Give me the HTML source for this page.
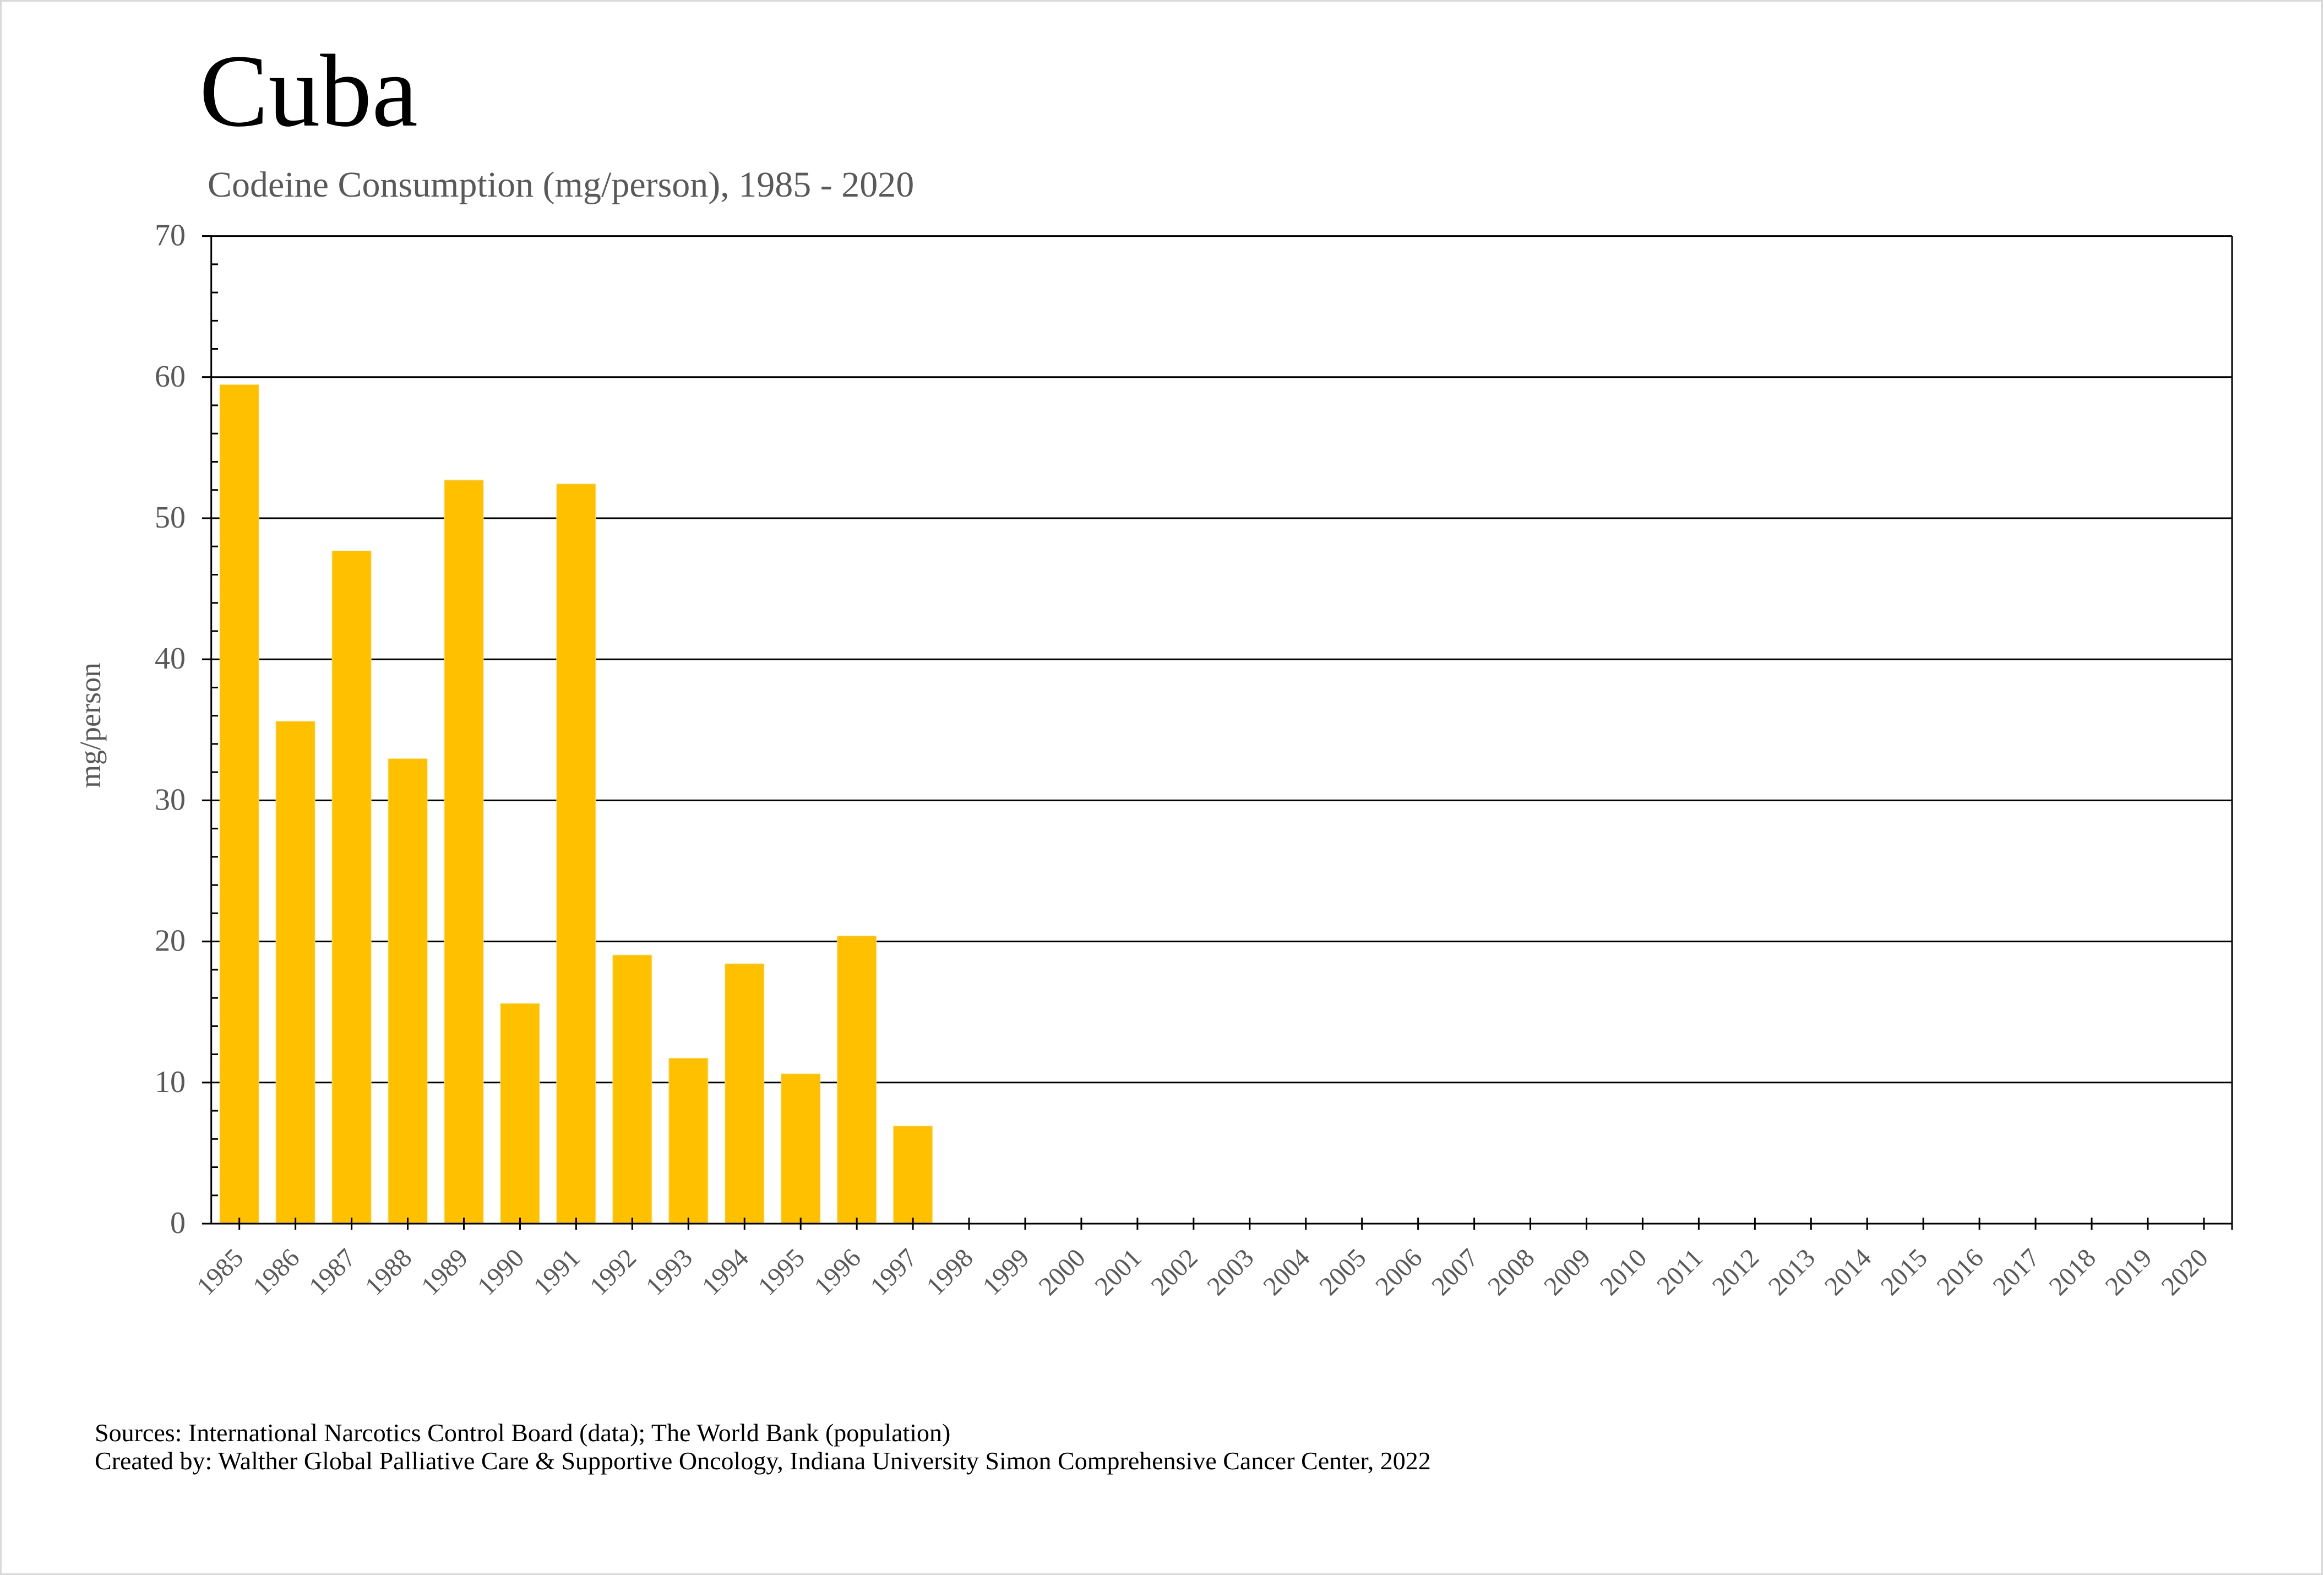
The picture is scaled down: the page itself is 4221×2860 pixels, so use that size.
<!DOCTYPE html>
<html>
<head>
<meta charset="utf-8">
<style>
html,body{margin:0;padding:0;background:#fff;}
svg{display:block;}
text{font-family:"Liberation Serif","Times New Roman",serif;}
</style>
</head>
<body>
<svg width="4221" height="2860" viewBox="0 0 4221 2860" xmlns="http://www.w3.org/2000/svg">
<rect x="0" y="0" width="4221" height="2860" fill="#fff"/>
<rect x="1.5" y="1.5" width="4216" height="2857" fill="none" stroke="#d9d9d9" stroke-width="3"/>

<!-- Title -->
<text x="362" y="228" font-size="188" fill="#000">Cuba</text>
<text x="377" y="357" font-size="66" fill="#595959">Codeine Consumption (mg/person), 1985 - 2020</text>

<!-- gridlines -->
<g stroke="#000" stroke-width="3">
<line x1="367" y1="428.6" x2="4054" y2="428.6"/>
<line x1="367" y1="684.8" x2="4054" y2="684.8"/>
<line x1="367" y1="941" x2="4054" y2="941"/>
<line x1="367" y1="1197.2" x2="4054" y2="1197.2"/>
<line x1="367" y1="1453.4" x2="4054" y2="1453.4"/>
<line x1="367" y1="1709.6" x2="4054" y2="1709.6"/>
<line x1="367" y1="1965.8" x2="4054" y2="1965.8"/>
</g>

<!-- bars -->
<g fill="#FFC000" stroke="#FFE28A" stroke-width="1">
<rect x="399.2" y="698.4" width="71" height="1523.6"/>
<rect x="501.15" y="1309.7" width="71" height="912.3"/>
<rect x="603.1" y="1000.4" width="71" height="1221.6"/>
<rect x="705.05" y="1377.6" width="71" height="844.4"/>
<rect x="807.0" y="871.8" width="71" height="1350.2"/>
<rect x="908.95" y="1822.1" width="71" height="399.9"/>
<rect x="1010.9" y="878.7" width="71" height="1343.3"/>
<rect x="1112.85" y="1734.2" width="71" height="487.8"/>
<rect x="1214.8" y="1921.5" width="71" height="300.5"/>
<rect x="1316.75" y="1750.1" width="71" height="471.9"/>
<rect x="1418.7" y="1949.9" width="71" height="272.1"/>
<rect x="1520.65" y="1699.6" width="71" height="522.4"/>
<rect x="1622.6" y="2044.7" width="71" height="177.3"/>
</g>

<!-- axes -->
<g stroke="#000" stroke-width="3" fill="none">
<line x1="383.7" y1="428.6" x2="383.7" y2="2222"/>
<line x1="4054" y1="428.6" x2="4054" y2="2233"/>
<line x1="367" y1="2222" x2="4054" y2="2222"/>
<!-- major left ticks -->
<path d="M367 2222H384M367 1965.8H384M367 1709.6H384M367 1453.4H384M367 1197.2H384M367 941H384M367 684.8H384M367 428.6H384"/>
<!-- minor left ticks -->
<path d="M384 2170.76H396M384 2119.52H396M384 2068.28H396M384 2017.04H396M384 1914.56H396M384 1863.32H396M384 1812.08H396M384 1760.84H396M384 1658.36H396M384 1607.12H396M384 1555.88H396M384 1504.64H396M384 1402.16H396M384 1350.92H396M384 1299.68H396M384 1248.44H396M384 1145.96H396M384 1094.72H396M384 1043.48H396M384 992.24H396M384 889.76H396M384 838.52H396M384 787.28H396M384 736.04H396M384 633.56H396M384 582.32H396M384 531.08H396M384 479.84H396"/>
<!-- x ticks -->
<path d="M434.7 2211V2233M536.65 2211V2233M638.6 2211V2233M740.55 2211V2233M842.5 2211V2233M944.45 2211V2233M1046.4 2211V2233M1148.35 2211V2233M1250.3 2211V2233M1352.25 2211V2233M1454.2 2211V2233M1556.15 2211V2233M1658.1 2211V2233M1760.05 2211V2233M1862 2211V2233M1963.95 2211V2233M2065.9 2211V2233M2167.85 2211V2233M2269.8 2211V2233M2371.75 2211V2233M2473.7 2211V2233M2575.65 2211V2233M2677.6 2211V2233M2779.55 2211V2233M2881.5 2211V2233M2983.45 2211V2233M3085.4 2211V2233M3187.35 2211V2233M3289.3 2211V2233M3391.25 2211V2233M3493.2 2211V2233M3595.15 2211V2233M3697.1 2211V2233M3799.05 2211V2233M3901 2211V2233M4002.95 2211V2233"/>
</g>

<!-- y tick labels -->
<g font-size="56" fill="#595959" text-anchor="end">
<text x="337" y="2239">0</text>
<text x="337" y="1982.8">10</text>
<text x="337" y="1726.6">20</text>
<text x="337" y="1470.4">30</text>
<text x="337" y="1214.2">40</text>
<text x="337" y="958">50</text>
<text x="337" y="701.8">60</text>
<text x="337" y="445.6">70</text>
</g>

<!-- y axis title -->
<text transform="translate(182,1317) rotate(-90)" font-size="54" fill="#595959" text-anchor="middle">mg/person</text>

<!-- x labels -->
<g font-size="48" fill="#595959" text-anchor="end">
<text transform="translate(444.7,2287) rotate(-45)">1985</text>
<text transform="translate(546.65,2287) rotate(-45)">1986</text>
<text transform="translate(648.6,2287) rotate(-45)">1987</text>
<text transform="translate(750.55,2287) rotate(-45)">1988</text>
<text transform="translate(852.5,2287) rotate(-45)">1989</text>
<text transform="translate(954.45,2287) rotate(-45)">1990</text>
<text transform="translate(1056.4,2287) rotate(-45)">1991</text>
<text transform="translate(1158.35,2287) rotate(-45)">1992</text>
<text transform="translate(1260.3,2287) rotate(-45)">1993</text>
<text transform="translate(1362.25,2287) rotate(-45)">1994</text>
<text transform="translate(1464.2,2287) rotate(-45)">1995</text>
<text transform="translate(1566.15,2287) rotate(-45)">1996</text>
<text transform="translate(1668.1,2287) rotate(-45)">1997</text>
<text transform="translate(1770.05,2287) rotate(-45)">1998</text>
<text transform="translate(1872,2287) rotate(-45)">1999</text>
<text transform="translate(1973.95,2287) rotate(-45)">2000</text>
<text transform="translate(2075.9,2287) rotate(-45)">2001</text>
<text transform="translate(2177.85,2287) rotate(-45)">2002</text>
<text transform="translate(2279.8,2287) rotate(-45)">2003</text>
<text transform="translate(2381.75,2287) rotate(-45)">2004</text>
<text transform="translate(2483.7,2287) rotate(-45)">2005</text>
<text transform="translate(2585.65,2287) rotate(-45)">2006</text>
<text transform="translate(2687.6,2287) rotate(-45)">2007</text>
<text transform="translate(2789.55,2287) rotate(-45)">2008</text>
<text transform="translate(2891.5,2287) rotate(-45)">2009</text>
<text transform="translate(2993.45,2287) rotate(-45)">2010</text>
<text transform="translate(3095.4,2287) rotate(-45)">2011</text>
<text transform="translate(3197.35,2287) rotate(-45)">2012</text>
<text transform="translate(3299.3,2287) rotate(-45)">2013</text>
<text transform="translate(3401.25,2287) rotate(-45)">2014</text>
<text transform="translate(3503.2,2287) rotate(-45)">2015</text>
<text transform="translate(3605.15,2287) rotate(-45)">2016</text>
<text transform="translate(3707.1,2287) rotate(-45)">2017</text>
<text transform="translate(3809.05,2287) rotate(-45)">2018</text>
<text transform="translate(3911,2287) rotate(-45)">2019</text>
<text transform="translate(4012.95,2287) rotate(-45)">2020</text>
</g>

<!-- footnotes -->
<g font-size="46" fill="#000">
<text x="172" y="2617">Sources: International Narcotics Control Board (data); The World Bank (population)</text>
<text x="172" y="2668">Created by: Walther Global Palliative Care &amp; Supportive Oncology, Indiana University Simon Comprehensive Cancer Center, 2022</text>
</g>
</svg>
</body>
</html>
